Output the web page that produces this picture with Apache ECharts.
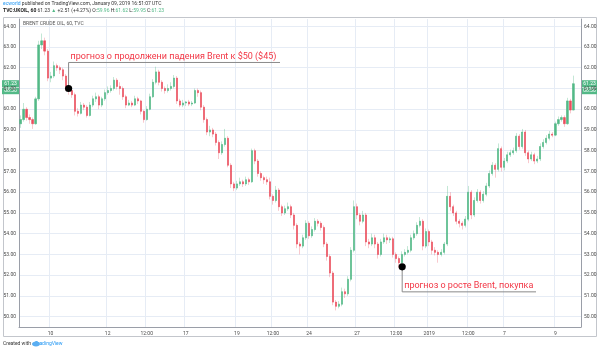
<!DOCTYPE html>
<html>
<head>
<meta charset="utf-8">
<script src="https://cdn.jsdelivr.net/npm/echarts@6/dist/echarts.min.js"></script>
<style>
  html, body { margin: 0; padding: 0; background: #fff; }
  #chart { width: 600px; height: 351px; }
</style>
</head>
<body>
<div id="chart"></div>
<script>
// hourly-ish Brent candles: [open, close, low, high]
const candles = [
  [59.30, 59.50, 59.10, 59.70], [59.50, 60.00, 59.40, 60.30], [60.00, 59.60, 59.45, 60.10], [59.60, 59.50, 59.30, 59.75],
  [59.50, 59.30, 59.05, 59.60], [59.30, 60.50, 59.25, 60.60], [60.50, 63.10, 60.40, 63.30], [63.10, 63.30, 62.90, 63.65],
  [63.30, 62.80, 62.60, 63.45], [62.80, 61.50, 61.35, 62.90], [61.50, 61.60, 61.30, 61.80], [61.60, 62.10, 61.50, 62.30],
  [62.10, 62.00, 61.85, 62.20], [62.00, 61.90, 61.70, 62.10], [61.90, 61.60, 61.40, 62.00], [61.60, 61.10, 60.90, 61.70],
  [61.10, 60.90, 60.70, 61.20], [60.90, 60.70, 60.55, 61.05], [60.70, 59.90, 59.70, 60.80], [59.90, 59.80, 59.65, 60.05],
  [59.80, 60.20, 59.75, 60.35], [60.20, 60.10, 59.95, 60.30], [60.10, 59.70, 59.60, 60.20], [59.70, 60.20, 59.65, 60.35],
  [60.20, 60.50, 60.10, 60.65], [60.50, 60.60, 60.35, 60.80], [60.60, 60.20, 60.00, 60.70], [60.20, 60.50, 60.10, 60.60],
  [60.50, 60.80, 60.40, 60.95], [60.80, 60.90, 60.70, 61.10], [60.90, 61.00, 60.80, 61.15], [61.00, 61.40, 60.90, 61.55],
  [61.40, 61.10, 60.95, 61.50], [61.10, 61.00, 60.70, 61.30], [61.00, 60.60, 60.45, 61.10], [60.60, 60.20, 60.05, 60.70],
  [60.20, 60.30, 60.15, 60.45], [60.30, 60.20, 60.10, 60.40], [60.20, 60.50, 60.15, 60.65], [60.50, 60.40, 60.25, 60.60],
  [60.40, 59.90, 59.75, 60.45], [59.90, 59.50, 59.35, 59.95], [59.50, 60.00, 59.45, 60.15], [60.00, 60.60, 59.95, 60.75],
  [60.60, 61.30, 60.55, 61.45], [61.30, 61.80, 61.20, 62.05], [61.80, 61.30, 61.15, 61.90], [61.30, 61.00, 60.85, 61.40],
  [61.00, 60.90, 60.75, 61.10], [60.90, 61.00, 60.80, 61.20], [61.00, 61.10, 60.90, 61.30], [61.10, 61.50, 61.00, 61.65],
  [61.50, 60.40, 60.25, 61.60], [60.40, 60.20, 60.10, 60.50], [60.20, 60.30, 60.10, 60.45], [60.30, 60.35, 60.15, 60.40],
  [60.35, 60.25, 60.15, 60.45], [60.25, 60.30, 60.15, 60.40], [60.30, 60.90, 60.25, 61.00], [60.90, 60.80, 60.60, 61.00],
  [60.80, 60.10, 59.95, 60.90], [60.10, 59.50, 59.35, 60.20], [59.50, 58.90, 58.75, 59.60], [58.90, 59.00, 58.70, 59.20],
  [59.00, 58.80, 58.65, 59.10], [58.80, 58.40, 58.25, 58.90], [58.40, 57.90, 57.60, 58.50], [57.90, 58.30, 57.80, 58.45],
  [58.30, 58.60, 58.20, 59.05], [58.60, 57.30, 57.20, 58.70], [57.30, 56.40, 56.20, 57.40], [56.40, 56.20, 56.05, 56.50],
  [56.20, 56.40, 56.10, 56.55], [56.40, 56.50, 56.30, 56.70], [56.50, 56.40, 56.25, 56.60], [56.40, 56.60, 56.30, 56.75],
  [56.60, 56.50, 56.35, 56.70], [56.50, 58.00, 56.45, 58.10], [58.00, 57.50, 57.35, 58.10], [57.50, 56.90, 56.75, 57.60],
  [56.90, 56.70, 56.55, 57.00], [56.70, 56.60, 56.40, 56.80], [56.60, 56.50, 56.35, 56.75], [56.50, 55.80, 55.65, 56.70],
  [55.80, 55.60, 55.40, 55.90], [55.60, 56.10, 55.50, 56.30], [56.10, 55.30, 55.10, 56.20], [55.30, 55.00, 54.85, 55.40],
  [55.00, 55.20, 54.90, 55.35], [55.20, 55.30, 55.10, 55.50], [55.30, 54.90, 54.75, 55.40], [54.90, 54.40, 54.20, 55.00],
  [54.40, 53.50, 53.30, 54.50], [53.50, 53.40, 53.00, 53.60], [53.40, 53.80, 53.30, 53.95], [53.80, 54.50, 53.70, 54.65],
  [54.50, 53.90, 53.75, 54.60], [53.90, 54.20, 53.80, 54.35], [54.20, 54.60, 54.10, 54.75], [54.60, 54.50, 54.35, 54.70],
  [54.50, 54.30, 54.15, 54.60], [54.30, 53.50, 53.35, 54.40], [53.50, 52.90, 52.70, 53.60], [52.90, 52.10, 51.90, 53.00],
  [52.10, 50.70, 50.55, 52.20], [50.70, 50.50, 50.30, 50.80], [50.50, 50.60, 50.40, 50.75], [50.60, 51.20, 50.50, 51.40],
  [51.20, 51.10, 50.90, 51.35], [51.10, 51.80, 51.00, 51.95], [51.80, 53.20, 51.70, 53.35], [53.20, 55.30, 53.10, 55.60],
  [55.30, 54.90, 54.70, 55.45], [54.90, 54.60, 54.40, 55.00], [54.60, 54.90, 54.50, 55.10], [54.90, 53.60, 53.40, 55.00],
  [53.60, 53.50, 53.30, 53.75], [53.50, 53.80, 53.40, 54.00], [53.80, 53.50, 53.30, 53.95], [53.50, 53.00, 52.80, 53.60],
  [53.00, 53.60, 52.90, 53.75], [53.60, 53.80, 53.50, 54.00], [53.80, 53.70, 53.50, 53.95], [53.70, 53.75, 53.55, 53.85],
  [53.75, 53.00, 52.85, 53.85], [53.00, 52.80, 52.60, 53.10], [52.80, 52.60, 52.35, 52.90], [52.60, 53.00, 52.50, 53.15],
  [53.00, 53.10, 52.90, 53.25], [53.10, 53.20, 53.00, 53.40], [53.20, 53.80, 53.10, 53.95], [53.80, 54.00, 53.70, 54.15],
  [54.00, 54.40, 53.90, 54.55], [54.40, 54.60, 54.30, 54.80], [54.60, 53.40, 53.20, 54.70], [53.40, 54.10, 53.30, 54.25],
  [54.10, 53.60, 53.40, 54.20], [53.60, 53.20, 53.00, 53.70], [53.20, 53.10, 52.95, 53.35], [53.10, 53.00, 52.60, 53.20],
  [53.00, 53.10, 52.90, 53.25], [53.10, 53.50, 53.00, 53.60], [53.50, 55.80, 53.40, 56.30], [55.80, 55.30, 55.10, 56.00],
  [55.30, 55.00, 54.85, 55.40], [55.00, 54.60, 54.45, 55.10], [54.60, 54.50, 54.30, 54.70], [54.50, 54.40, 54.20, 54.60],
  [54.40, 54.70, 54.30, 54.85], [54.70, 56.00, 54.60, 56.30], [56.00, 54.90, 54.70, 56.10], [54.90, 55.60, 54.80, 55.75],
  [55.60, 56.00, 55.50, 56.15], [56.00, 55.60, 55.45, 56.10], [55.60, 55.90, 55.50, 56.05], [55.90, 56.30, 55.80, 56.45],
  [56.30, 56.90, 56.20, 57.05], [56.90, 57.30, 56.80, 57.45], [57.30, 57.10, 56.70, 57.40], [57.10, 58.10, 57.00, 58.35],
  [58.10, 57.20, 57.00, 58.20], [57.20, 57.50, 57.05, 57.65], [57.50, 57.80, 57.40, 57.95], [57.80, 57.90, 57.70, 58.05],
  [57.90, 58.00, 57.80, 58.15], [58.00, 58.70, 57.90, 58.85], [58.70, 58.20, 58.05, 58.80], [58.20, 58.90, 58.10, 59.05],
  [58.90, 57.90, 57.75, 59.00], [57.90, 57.60, 57.40, 58.00], [57.60, 57.80, 57.50, 57.95], [57.80, 57.50, 57.35, 57.90],
  [57.50, 57.60, 57.40, 57.75], [57.60, 58.20, 57.50, 58.35], [58.20, 58.40, 58.10, 58.55], [58.40, 58.60, 58.30, 58.75],
  [58.60, 58.80, 58.50, 58.95], [58.80, 58.75, 58.65, 58.90], [58.75, 59.30, 58.70, 59.40], [59.30, 59.50, 59.20, 59.65],
  [59.50, 59.60, 59.40, 59.70], [59.60, 59.30, 59.15, 59.70], [59.30, 60.40, 59.25, 60.55], [60.40, 59.96, 59.80, 60.50],
  [59.96, 61.23, 59.95, 61.62]
];

// time scale: a couple of empty slots stay on the right like on TradingView
const slotCount = 187;
const tickIndex = [10, 29, 42, 55, 72, 84, 96, 112, 125, 136, 149, 161, 178];
const tickLabels = ['10', '12', '12:00', '17', '19', '12:00', '24', '27', '12:00', '2019', '12:00', '7', '9'];

const lastPrice = 61.23;
const barCountdown = '08:56';

const notes = [
  { text: 'прогноз о продолжени падения Brent к $50 ($45)', idx: 16, price: 61.0 },
  { text: 'прогноз о росте Brent, покупка', idx: 127, price: 52.4 }
];

const UP = '#53b987', DOWN = '#eb4d5c';
const GRID_LINE = '#e6ecf5';
const AXIS_LINE = '#9a9ea8';
const FONT = 'Roboto, "Noto Sans", sans-serif';

const categories = [];
for (let i = 0; i < slotCount; i++) {
    const k = tickIndex.indexOf(i);
    categories.push(k >= 0 ? tickLabels[k] : '');
}
const tickSet = new Set(tickIndex);

// bodies only (wicks come from the pale series underneath)
const bodies = candles.map(function (c) {
    return [c[0], c[1], Math.min(c[0], c[1]), Math.max(c[0], c[1])];
});

const isWhole = (v) => Math.abs(v - Math.round(v)) < 1e-6;

const yAxisBase = {
    type: 'value',
    min: 49.5,
    max: 64.35,
    interval: 0.5,
    axisLine: { show: true, lineStyle: { color: AXIS_LINE, width: 1 } },
    axisTick: { show: false },
    axisLabel: {
        fontSize: 5,
        color: '#4a4a4a',
        fontFamily: FONT,
        margin: 3,
        showMinLabel: false,
        showMaxLabel: false,
        formatter: function (v) {
            return isWhole(v) ? v.toFixed(2) : '';
        }
    },
    splitLine: { show: true, lineStyle: { color: ['rgba(0,0,0,0)', GRID_LINE], width: 1 } }
};

const chart = echarts.init(document.getElementById('chart'));

const option = {
    backgroundColor: '#fff',
    animation: false,
    grid: { left: 19, right: 19, top: 19, bottom: 24 },
    xAxis: {
        type: 'category',
        data: categories,
        boundaryGap: true,
        axisLine: { show: true, lineStyle: { color: AXIS_LINE } },
        axisTick: { show: false },
        axisLabel: {
            interval: function (i) { return tickSet.has(i); },
            fontSize: 5,
            color: '#4a4a4a',
            fontFamily: FONT,
            margin: 4
        },
        splitLine: {
            show: true,
            interval: function (i) { return tickSet.has(i); },
            lineStyle: { color: GRID_LINE }
        }
    },
    yAxis: [
        Object.assign({}, yAxisBase, { position: 'left' }),
        Object.assign({}, yAxisBase, { position: 'right' })
    ],
    series: [
        {
            name: 'wick',
            type: 'candlestick',
            data: candles,
            barWidth: 1.5,
            itemStyle: {
                color: 'rgba(83,185,135,0.35)',
                color0: 'rgba(235,77,92,0.3)',
                borderColor: 'rgba(83,185,135,0.35)',
                borderColor0: 'rgba(235,77,92,0.3)',
                borderWidth: 1
            }
        },
        {
            name: 'UKOIL',
            type: 'candlestick',
            data: bodies,
            barWidth: 1.6,
            itemStyle: {
                color: UP,
                color0: DOWN,
                borderColor: UP,
                borderColor0: DOWN,
                borderWidth: 0.4
            }
        }
    ]
};

chart.setOption(option);

// overlay: header, footer, price labels, notes
const toPx = (i, p) => chart.convertToPixel({ xAxisIndex: 0, yAxisIndex: 0 }, [i, p]);
const g = [];

g.push({
    type: 'rect', silent: true, z: 0,
    shape: { x: 3.5, y: 17.5, width: 593, height: 319 },
    style: { fill: 'none', stroke: '#c3c6cc', lineWidth: 1 }
});

g.push({
    type: 'text', left: 3, top: 1,
    style: {
        text: '{a|ecworld} published on TradingView.com, January 09, 2019 16:51:07 UTC',
        fontSize: 5, fontFamily: FONT, fill: '#333',
        rich: { a: { fill: '#2196f3', fontSize: 5, fontFamily: FONT } }
    }
});
g.push({
    type: 'text', left: 3, top: 8,
    style: {
        text: '{b|TVC:UKOIL, 60} 61.23 {g|▲} +2.51 (+4.27%) O:{g|59.96} H:{g|61.62} L:{g|59.95} C:{g|61.23}',
        fontSize: 5, fontFamily: FONT, fill: '#333',
        rich: {
            b: { fontWeight: 'bold', fontSize: 5, fontFamily: FONT, fill: '#222' },
            g: { fill: UP, fontSize: 5, fontFamily: FONT }
        }
    }
});
g.push({
    type: 'text', left: 23, top: 21,
    style: { text: 'BRENT CRUDE OIL, 60, TVC', fontSize: 5, fontFamily: FONT, fill: '#555' }
});

// footer
g.push({
    type: 'text', left: 3, top: 341,
    style: {
        text: 'Created with {s|  }{t|TradingView}',
        fontSize: 5, fontFamily: FONT, fill: '#333',
        rich: { s: { fontSize: 5 }, t: { fill: '#2196f3', fontSize: 5, fontFamily: FONT } }
    }
});
g.push({
    type: 'ellipse', shape: { cx: 36, cy: 344, rx: 4, ry: 2.4 },
    style: { fill: '#5aaef2' }
});

// last price + bar countdown labels on both scales
const lastY = toPx(0, lastPrice)[1];
[[2, 17], [582, 15]].forEach(function (side) {
    g.push({
        type: 'rect', shape: { x: side[0], y: lastY - 3.5, width: side[1], height: 7 },
        style: { fill: UP }
    });
    g.push({
        type: 'text', x: side[0] + side[1] / 2, y: lastY,
        style: { text: lastPrice.toFixed(2), fontSize: 5, fontFamily: FONT, fill: '#fff', align: 'center', verticalAlign: 'middle' }
    });
    g.push({
        type: 'rect', shape: { x: side[0], y: lastY + 4, width: side[1], height: 6.5 },
        style: { fill: UP }
    });
    g.push({
        type: 'text', x: side[0] + side[1] / 2, y: lastY + 7.3,
        style: { text: barCountdown, fontSize: 5, fontFamily: FONT, fill: '#fff', align: 'center', verticalAlign: 'middle' }
    });
});

// callouts: dot, elbow leader, red caption on the leader
const noteLayout = [{ dy: -26, endX: 280 }, { dy: 25, endX: 536 }];
notes.forEach(function (n, k) {
    const p = toPx(n.idx, n.price);
    const lay = noteLayout[k];
    const ly = p[1] + lay.dy;
    g.push({
        type: 'polyline', z: 10,
        shape: { points: [[p[0], p[1]], [p[0], ly], [lay.endX, ly]] },
        style: { stroke: '#8a8a8a', lineWidth: 1, fill: 'none' }
    });
    g.push({
        type: 'circle', z: 11,
        shape: { cx: p[0], cy: p[1], r: 3.6 },
        style: { fill: '#000' }
    });
    g.push({
        type: 'text', z: 11, x: p[0] + 2, y: ly - 1.5,
        style: { text: n.text, fontSize: 9, fontFamily: FONT, fill: '#f23645', verticalAlign: 'bottom' }
    });
});

chart.setOption({ graphic: g });
</script>
</body>
</html>
